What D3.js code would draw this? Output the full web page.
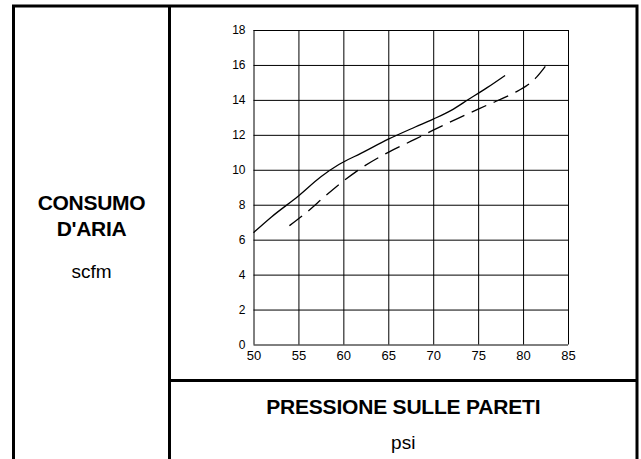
<!DOCTYPE html>
<html>
<head>
<meta charset="utf-8">
<script src="https://cdn.jsdelivr.net/npm/d3@7"></script>
<style>
  html, body { margin: 0; padding: 0; background: #fff; }
  svg { display: block; font-family: "Liberation Sans", Arial, Helvetica, sans-serif; }
</style>
</head>
<body>
<svg id="chart" width="641" height="459"></svg>
<script>
// ---- data ----
const xTicks = [50, 55, 60, 65, 70, 75, 80, 85];
const yTicks = [0, 2, 4, 6, 8, 10, 12, 14, 16, 18];

const solidX = [50, 52, 55, 57.5, 59.5, 62, 65, 68, 70, 72, 74, 76, 78];
const solidY = [6.4, 7.3, 8.5, 9.6, 10.3, 10.95, 11.75, 12.45, 12.9, 13.4, 14.05, 14.7, 15.4];

const dashedX = [54, 56, 58, 60, 62, 65, 68, 70, 73, 76, 79, 80.5, 81.5, 82.6];
const dashedY = [6.8, 7.6, 8.5, 9.35, 10.1, 11.0, 11.75, 12.27, 13.0, 13.7, 14.4, 14.85, 15.3, 16.0];

const yTitle = ["CONSUMO", "D'ARIA"];
const yUnit = "scfm";
const xTitle = "PRESSIONE SULLE PARETI";
const xUnit = "psi";

// ---- layout ----
const svg = d3.select("#chart");
const frame = { left: 13.5, right: 637, top: 6, divX: 169.5, divY: 380.5 };

const x = d3.scaleLinear().domain([50, 85]).range([253.5, 568]);
const y = d3.scaleLinear().domain([0, 18]).range([344.5, 30]);

// frame lines
const fr = svg.append("g").attr("stroke", "#000").attr("stroke-width", 3).attr("fill", "none");
fr.append("path").attr("d", `M${frame.left},459 V${frame.top} H${frame.right} V459`);
fr.append("line").attr("x1", frame.divX).attr("x2", frame.divX).attr("y1", frame.top).attr("y2", 459);
fr.append("line").attr("x1", frame.divX).attr("x2", frame.right).attr("y1", frame.divY).attr("y2", frame.divY);

// grid + axes
const gy = svg.append("g")
  .attr("transform", `translate(${x(50)},0)`)
  .call(d3.axisLeft(y).tickValues(yTicks).tickSize(-(x(85) - x(50))).tickPadding(8).tickFormat(d3.format("d")));
gy.select(".domain").remove();
gy.selectAll(".tick line").attr("stroke", "#000").attr("stroke-width", 1);
gy.selectAll(".tick text").attr("fill", "#000").attr("font-size", 12).attr("font-family", "Liberation Sans, Arial, sans-serif");

const gx = svg.append("g")
  .attr("transform", `translate(0,${y(0)})`)
  .call(d3.axisBottom(x).tickValues(xTicks).tickSize(-(y(0) - y(18))).tickPadding(6).tickFormat(d3.format("d")));
gx.select(".domain").remove();
gx.selectAll(".tick line").attr("stroke", "#000").attr("stroke-width", 1);
gx.selectAll(".tick text").attr("fill", "#000").attr("font-size", 13).attr("font-family", "Liberation Sans, Arial, sans-serif");

// curves
const line = d3.line().x(d => x(d[0])).y(d => y(d[1])).curve(d3.curveMonotoneX);
const solid = solidX.map((v, i) => [v, solidY[i]]);
const dashed = dashedX.map((v, i) => [v, dashedY[i]]);

svg.append("path").attr("d", line(solid)).attr("fill", "none").attr("stroke", "#000").attr("stroke-width", 1.3);
svg.append("path").attr("d", line(dashed)).attr("fill", "none").attr("stroke", "#000").attr("stroke-width", 1.3)
  .attr("stroke-dasharray", "16,8");

// left panel titles
const cx = (frame.left + frame.divX) / 2;
svg.append("text").attr("x", cx).attr("y", 210).attr("text-anchor", "middle")
  .attr("font-size", 21).attr("font-weight", "bold").attr("letter-spacing", -0.3).text(yTitle[0]);
svg.append("text").attr("x", cx).attr("y", 236).attr("text-anchor", "middle")
  .attr("font-size", 21).attr("font-weight", "bold").attr("letter-spacing", -0.3).text(yTitle[1]);
svg.append("text").attr("x", cx).attr("y", 277.5).attr("text-anchor", "middle")
  .attr("font-size", 19).text(yUnit);

// bottom panel titles
const bx = (frame.divX + frame.right) / 2;
svg.append("text").attr("x", bx).attr("y", 414).attr("text-anchor", "middle")
  .attr("font-size", 21).attr("font-weight", "bold").attr("letter-spacing", -0.2).text(xTitle);
svg.append("text").attr("x", bx).attr("y", 449).attr("text-anchor", "middle")
  .attr("font-size", 19).text(xUnit);
</script>
</body>
</html>
